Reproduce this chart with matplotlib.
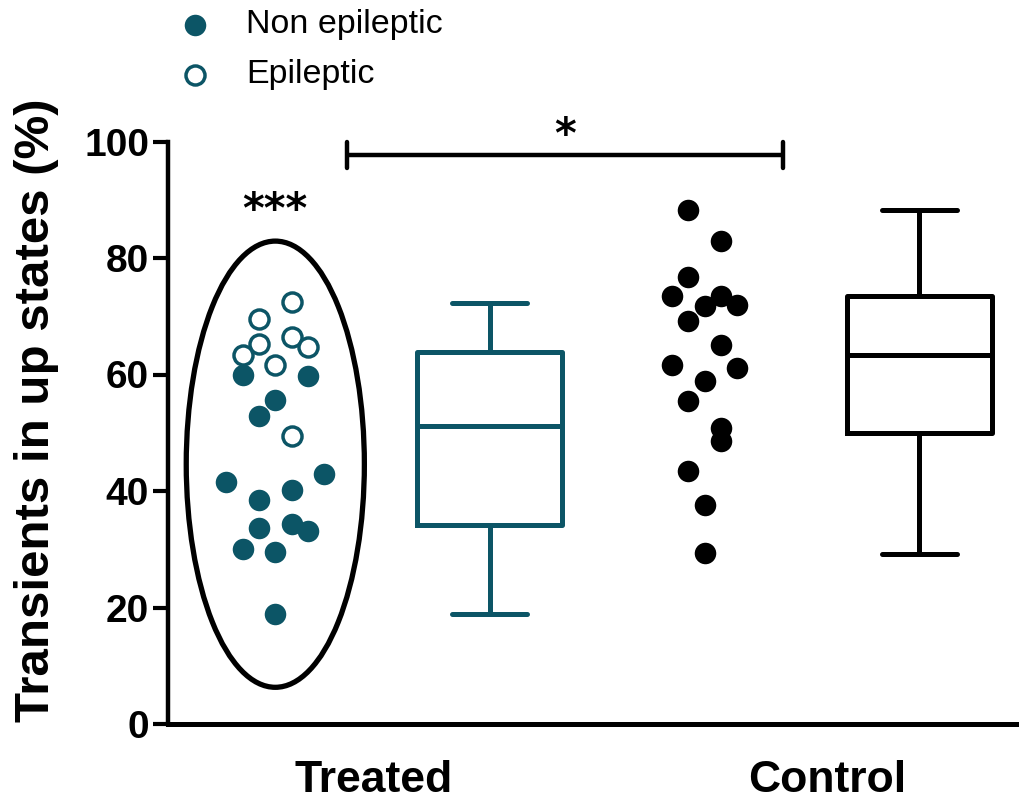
import matplotlib
matplotlib.use("Agg")
import matplotlib.pyplot as plt
from matplotlib.patches import Ellipse
import numpy as np

plt.rcParams['font.family'] = ['Liberation Sans', 'DejaVu Sans']

TEAL = '#0c5566'

# ---- data ----
categories = ['Treated', 'Control']
treated_epileptic = [72.5, 69.6, 65.3, 66.5, 64.8, 63.4, 61.7, 49.5]
treated_epileptic_col = [1, -1, -1, 1, 2, -2, 0, 1]
treated_nonepileptic = [60.0, 59.8, 55.7, 52.9, 41.6, 43.0, 38.5, 40.2,
                        33.7, 34.4, 33.2, 30.1, 29.5, 18.9]
treated_nonepileptic_col = [-2, 2, 0, -1, -3, 3, -1, 1, -1, 1, 2, -2, 0, 0]
control_values = [88.3, 83.0, 76.8, 73.5, 73.5, 71.8, 72.0, 69.1, 65.0,
                  61.7, 61.2, 58.8, 55.5, 50.8, 48.6, 43.5, 37.6, 29.4]
control_col = [-1, 1, -1, -2, 1, 0, 2, -1, 1, -2, 2, 0, -1, 1, 1, -1, 0, 0]

# box statistics: (whislo, q1, median, q3, whishi)
treated_box = (18.9, 34.2, 51.2, 63.9, 72.3)
control_box = (29.2, 50.0, 63.4, 73.5, 88.3)

yticks = [0, 20, 40, 60, 80, 100]
ylabel = 'Transients in up states (%)'
legend_labels = ['Non epileptic', 'Epileptic']

# ---- layout ----
fig = plt.figure(figsize=(10.2, 8.01), dpi=100)
ax = fig.add_axes([168/1020, 77/801, 1 - 168/1020, (724-141.5)/801])

pos_treated_pts, pos_treated_box, pos_control_pts, pos_control_box = 0, 1, 2, 3
dx = 0.076
ms = 15.5

ax.plot(pos_treated_pts + dx*np.array(treated_nonepileptic_col), treated_nonepileptic,
        'o', ms=ms, mfc=TEAL, mec=TEAL, mew=0, ls='none', clip_on=False, zorder=3)
ax.plot(pos_treated_pts + dx*np.array(treated_epileptic_col), treated_epileptic,
        'o', ms=ms-1.8, mfc='white', mec=TEAL, mew=2.5, ls='none', clip_on=False, zorder=3)
ax.plot(pos_control_pts + dx*np.array(control_col), control_values,
        'o', ms=ms, mfc='black', mec='black', mew=0, ls='none', clip_on=False, zorder=3)

def stats(b):
    return dict(whislo=b[0], q1=b[1], med=b[2], q3=b[3], whishi=b[4], fliers=[])

for b, p, c in [(treated_box, pos_treated_box, TEAL), (control_box, pos_control_box, 'black')]:
    lw = 3.6
    ax.bxp([stats(b)], positions=[p], widths=0.676, capwidths=0.35, showfliers=False,
           boxprops=dict(color=c, lw=lw, solid_joinstyle='round'),
           medianprops=dict(color=c, lw=lw),
           whiskerprops=dict(color=c, lw=lw),
           capprops=dict(color=c, lw=lw, solid_capstyle='round'),
           manage_ticks=False)

# ellipse around treated points
ax.add_patch(Ellipse((pos_treated_pts, 44.6), width=0.83, height=76.6,
                     fill=False, ec='black', lw=3.8, zorder=2))
ax.text(pos_treated_pts, 88.0, '***', ha='center', va='center', fontsize=30,
        fontweight='bold', family='DejaVu Sans')

# significance bar
ybar = 97.7
ax.plot([0.336, 2.364], [ybar, ybar], color='black', lw=3.2, clip_on=False,
        solid_capstyle='butt')
for xe in (0.336, 2.364):
    ax.plot([xe, xe], [ybar-2.3, ybar+2.3], color='black', lw=3.2,
            clip_on=False, solid_capstyle='round')
ax.text((0.336+2.364)/2, 100.9, '*', ha='center', va='center', fontsize=30,
        fontweight='bold', family='DejaVu Sans', clip_on=False)

# axes styling
ax.set_xlim(-0.5, 3.47)
ax.set_ylim(0, 100)
ax.set_yticks(yticks)
ax.set_yticklabels([str(t) for t in yticks], fontsize=28, fontweight='bold')
ax.set_xticks([0.46, 2.57])
ax.set_xticklabels(categories, fontsize=32, fontweight='bold')
ax.tick_params(axis='x', length=0, pad=26)
ax.tick_params(axis='y', length=10.5, width=3, pad=3)
for s in ('top', 'right'):
    ax.spines[s].set_visible(False)
ax.spines['left'].set_linewidth(3.2)
ax.spines['bottom'].set_linewidth(3.6)
ax.set_ylabel(ylabel, fontsize=35.5, fontweight='bold')
ax.yaxis.label.set_va('center')
ax.yaxis.set_label_coords(-(168-37)/(1020-168), (724-410)/(724-141.5))

# legend (figure-level)
fig.lines.append(plt.Line2D([195/1020], [1-25/801], marker='o', ms=15.5, mfc=TEAL,
                            mec=TEAL, mew=0, ls='none', transform=fig.transFigure))
fig.lines.append(plt.Line2D([195/1020], [1-75/801], marker='o', ms=13.7, mfc='white',
                            mec=TEAL, mew=2.5, ls='none', transform=fig.transFigure))
fig.text(246/1020, 1-24/801, legend_labels[0], fontsize=24.5, va='center', ha='left')
fig.text(246/1020, 1-74/801, legend_labels[1], fontsize=24.5, va='center', ha='left')

fig.savefig('out.png', dpi=100)
